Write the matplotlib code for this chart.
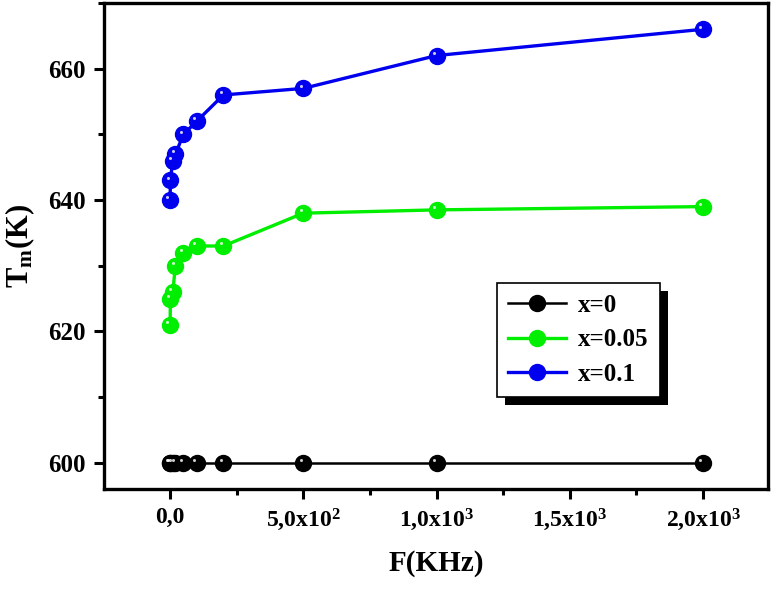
import numpy as np
import matplotlib
matplotlib.use("Agg")
import matplotlib.pyplot as plt
import matplotlib.transforms as mtransforms
from matplotlib.patches import Rectangle
from matplotlib.ticker import MultipleLocator, FixedLocator, FixedFormatter

plt.rcParams['font.family'] = ['Liberation Serif', 'DejaVu Serif']
plt.rcParams['font.weight'] = 'bold'
plt.rcParams['mathtext.fontset'] = 'custom'
plt.rcParams['mathtext.rm'] = 'Liberation Serif:bold'
plt.rcParams['mathtext.it'] = 'Liberation Serif:bold'
plt.rcParams['mathtext.bf'] = 'Liberation Serif:bold'

# frequencies (kHz) and Tm (K)
freq = [0.1, 1, 10, 20, 50, 100, 200, 500, 1000, 2000]
tm_x0 = [600, 600, 600, 600, 600, 600, 600, 600, 600, 600]
tm_x005 = [621, 625, 626, 630, 632, 633, 633, 638, 638.5, 639]
tm_x01 = [640, 643, 646, 647, 650, 652, 656, 657, 662, 666]

series = [("x=0", tm_x0, "black", 1.8),
          ("x=0.05", tm_x005, "#00ee00", 2.4),
          ("x=0.1", tm_x01, "#0000ee", 2.4)]

xtick_vals = [0, 500, 1000, 1500, 2000]
xtick_labels = ["0,0", "5,0x10$^2$", "1,0x10$^3$", "1,5x10$^3$", "2,0x10$^3$"]

fig = plt.figure(figsize=(7.74, 5.91), dpi=100)
ax = fig.add_axes([0.1344, 0.1726, 0.8578, 0.8223])

# highlight dot shifted up-left to fake the shaded spheres
hl = mtransforms.offset_copy(ax.transData, fig=fig, x=-2, y=2, units='points')

for name, vals, col, lw in series:
    ax.plot(freq, vals, '-o', color=col, lw=lw, ms=11.5, mec=col, mfc=col,
            label=name, zorder=3)
    ax.plot(freq, vals, 'o', color='white', ms=2.2, mec='none', alpha=0.8,
            transform=hl, zorder=4)

ax.set_xlim(-248, 2244)
ax.set_ylim(596, 670)

ax.xaxis.set_major_locator(FixedLocator(xtick_vals))
ax.xaxis.set_major_formatter(FixedFormatter(xtick_labels))
ax.xaxis.set_minor_locator(MultipleLocator(250))
ax.yaxis.set_major_locator(MultipleLocator(20))
ax.yaxis.set_minor_locator(MultipleLocator(10))

ax.tick_params(which='both', direction='out', top=False, right=False, width=2.2)
ax.tick_params(which='major', length=7, pad=6)
ax.tick_params(axis='y', labelsize=18)
ax.tick_params(axis='x', labelsize=17)
ax.tick_params(which='minor', length=4)
for lab in ax.get_xticklabels() + ax.get_yticklabels():
    lab.set_fontweight('bold')
for sp in ax.spines.values():
    sp.set_linewidth(2.4)

ax.set_xlabel("F(KHz)", fontsize=21, fontweight='bold', labelpad=12)
ax.set_ylabel("T$_\\mathrm{m}$(K)", fontsize=22, fontweight='bold', labelpad=8)

leg = ax.legend(loc='upper left', bbox_to_anchor=(0.592, 0.424),
                borderaxespad=0, frameon=True, fancybox=False, shadow=False,
                framealpha=1, edgecolor='black', handlelength=2.3,
                borderpad=0.45, labelspacing=0.45, handletextpad=0.5,
                prop={'weight': 'bold', 'size': 18})
leg.get_frame().set_linewidth(1.2)
leg.set_zorder(6)

# solid black drop shadow, offset down-right like the original
fig.canvas.draw()
bb = leg.get_window_extent()
ax.add_patch(Rectangle((bb.x0 + 8, bb.y0 - 8), bb.width, bb.height,
                       transform=mtransforms.IdentityTransform(),
                       facecolor='black', edgecolor='none', zorder=5.5,
                       clip_on=False))

fig.savefig("out.png", dpi=100)
